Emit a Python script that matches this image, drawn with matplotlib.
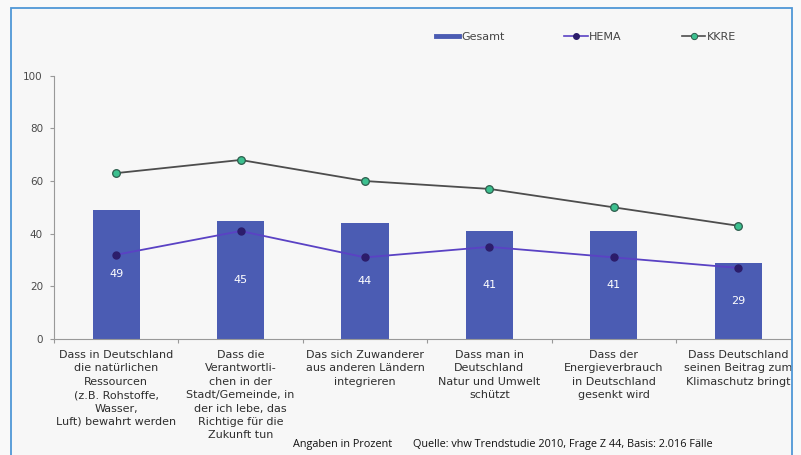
import numpy as np
import matplotlib
matplotlib.use("Agg")
import matplotlib.pyplot as plt
from matplotlib.patches import Rectangle
from matplotlib.lines import Line2D

# --- Data ---
categories = [
    "Dass in Deutschland\ndie natürlichen\nRessourcen\n(z.B. Rohstoffe,\nWasser,\nLuft) bewahrt werden",
    "Dass die\nVerantwortli-\nchen in der\nStadt/Gemeinde, in\nder ich lebe, das\nRichtige für die\nZukunft tun",
    "Das sich Zuwanderer\naus anderen Ländern\nintegrieren",
    "Dass man in\nDeutschland\nNatur und Umwelt\nschützt",
    "Dass der\nEnergieverbrauch\nin Deutschland\ngesenkt wird",
    "Dass Deutschland\nseinen Beitrag zum\nKlimaschutz bringt",
]
gesamt = [49, 45, 44, 41, 41, 29]
hema = [32, 41, 31, 35, 31, 27]
kkre = [63, 68, 60, 57, 50, 43]
yticks = [0, 20, 40, 60, 80, 100]

bar_color = "#4b5cb3"
hema_line = "#5a42c4"
hema_marker = "#2c1d6b"
kkre_line = "#4d4d4d"
kkre_marker = "#3cc08f"
text_grey = "#2e2e2e"

W, H = 801, 455
fig = plt.figure(figsize=(W / 100, H / 100), dpi=100, facecolor="#f9f9f9")

# framed panel
panel = Rectangle((11 / W, -0.05), (792 - 11) / W, 1.05 - 8 / H,
                  transform=fig.transFigure, facecolor="#f7f7f7",
                  edgecolor="none", zorder=-5)
border = Rectangle((11 / W, -0.05), (792 - 11) / W, 1.05 - 8 / H,
                   transform=fig.transFigure, facecolor="none",
                   edgecolor="#4f97d6", linewidth=1.3, zorder=10)
fig.add_artist(panel)
fig.add_artist(border)

# one category is 124.4 px wide; the plot runs on to the panel edge
cat_px = 124.4
left_px, right_px = 54, 791
ax = fig.add_axes([left_px / W, 1 - 339 / H, (right_px - left_px) / W, (339 - 75.7) / H])
ax.set_facecolor("none")

x = np.arange(len(categories))
bars = ax.bar(x, gesamt, width=0.38, color=bar_color, zorder=2)
ax.bar_label(bars, labels=[str(v) for v in gesamt], label_type="center",
             color="white", fontsize=8)
ax.plot(x, hema, color=hema_line, lw=1.3, marker="o", ms=5,
        mfc=hema_marker, mec=hema_marker, zorder=3)
ax.plot(x, kkre, color=kkre_line, lw=1.3, marker="o", ms=5.5,
        mfc=kkre_marker, mec="#2d5c4c", mew=0.9, zorder=3)

ax.set_xlim(-0.5, -0.5 + (right_px - left_px) / cat_px)
ax.set_ylim(0, 100)
ax.set_yticks(yticks)
ax.tick_params(axis="y", labelsize=7.5, colors="#999999", labelcolor="#4a4a4a",
               length=3, width=0.8, pad=5)

ax.set_xticks(x)
ax.set_xticklabels(categories, fontsize=8, color=text_grey, linespacing=1.42,
                   va="top")
ax.set_xticks(np.arange(len(categories)) - 0.5, minor=True)
ax.tick_params(axis="x", which="major", length=0, pad=8)
ax.tick_params(axis="x", which="minor", length=3, color="#999999", width=0.8)

for side in ["top", "right"]:
    ax.spines[side].set_visible(False)
ax.spines["left"].set_color("#999999")
ax.spines["bottom"].set_color("#999999")

handles = [
    Line2D([], [], color=bar_color, lw=3.5),
    Line2D([], [], color=hema_line, lw=1.2, marker="o", ms=4,
           mfc=hema_marker, mec=hema_marker),
    Line2D([], [], color=kkre_line, lw=1.2, marker="o", ms=4.5,
           mfc=kkre_marker, mec="#2d5c4c", mew=0.7),
]
fig.legend(handles, ["Gesamt", "HEMA", "KKRE"], ncol=3, frameon=False,
           loc="center left", bbox_to_anchor=(426 / W, 1 - 37 / H),
           fontsize=8, labelcolor="#444444", handlelength=2.1,
           handletextpad=0.15, columnspacing=5.4)

fig.text(293 / W, 1 - 445 / H, "Angaben in Prozent", fontsize=7.8,
         family="Open Sans", va="center", color="#111111")
fig.text(413 / W, 1 - 445 / H,
         "Quelle: vhw Trendstudie 2010, Frage Z 44, Basis: 2.016 Fälle",
         fontsize=7.8, family="Open Sans", va="center", color="#111111")

fig.savefig("out.png", dpi=100, facecolor=fig.get_facecolor())
